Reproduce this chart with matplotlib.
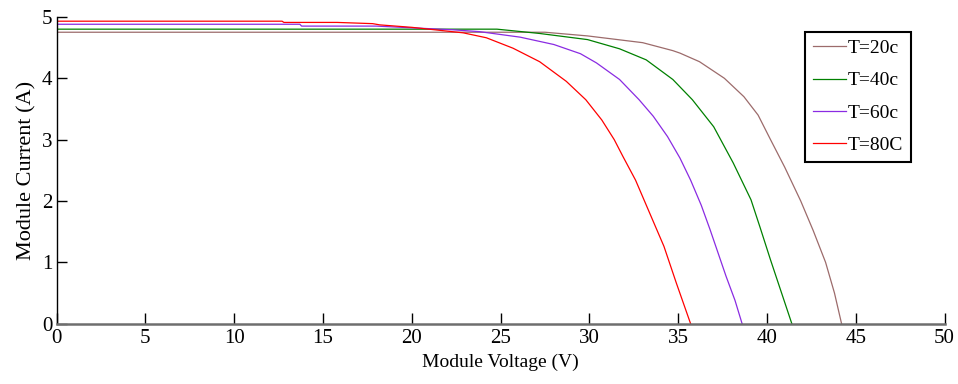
import matplotlib
matplotlib.use("Agg")
import matplotlib.pyplot as plt

# I-V curves, one pair of lists per temperature
v_20 = [0, 27.5, 29.9, 33.0, 34.7, 35.1, 36.2, 37.6, 38.7, 39.5, 40.2, 41.0, 41.9, 42.6, 43.3, 43.8, 44.2]
i_20 = [4.75, 4.75, 4.69, 4.58, 4.45, 4.41, 4.27, 4.00, 3.70, 3.40, 3.00, 2.55, 2.00, 1.52, 1.00, 0.50, 0.0]

v_40 = [0, 24.8, 27.2, 29.9, 31.7, 33.2, 34.7, 35.8, 37.0, 38.1, 39.1, 39.6, 40.2, 40.8, 41.4]
i_40 = [4.80, 4.80, 4.73, 4.63, 4.48, 4.30, 3.98, 3.65, 3.21, 2.62, 2.02, 1.58, 1.04, 0.52, 0.0]

v_60 = [0, 13.7, 13.8, 18.0, 22.3, 23.8, 26.1, 28.0, 29.5, 30.4, 31.7, 32.8, 33.6, 34.4, 35.1, 35.7, 36.3, 36.8, 37.7, 38.2, 38.6]
i_60 = [4.88, 4.88, 4.85, 4.85, 4.79, 4.76, 4.67, 4.55, 4.40, 4.25, 3.98, 3.65, 3.38, 3.05, 2.70, 2.34, 1.93, 1.53, 0.77, 0.38, 0.0]

v_80 = [0, 12.7, 12.8, 15.8, 17.8, 18.2, 20.0, 22.9, 24.2, 25.7, 27.2, 28.7, 29.8, 30.7, 31.4, 31.9, 32.6, 33.4, 34.2, 34.9, 35.3, 35.7]
i_80 = [4.93, 4.93, 4.91, 4.91, 4.89, 4.87, 4.83, 4.74, 4.66, 4.49, 4.27, 3.95, 3.65, 3.32, 3.00, 2.72, 2.34, 1.80, 1.26, 0.66, 0.33, 0.0]

labels = ["T=20c", "T=40c", "T=60c", "T=80C"]
colors = ["#9c6b6b", "#008000", "#8a2be2", "#ff0000"]

x_ticks = [0, 5, 10, 15, 20, 25, 30, 35, 40, 45, 50]
y_ticks = [0, 1, 2, 3, 4, 5]

plt.rcParams["font.family"] = ["Liberation Serif", "DejaVu Serif"]

fig = plt.figure(figsize=(9.58, 3.84), dpi=100)
ax = fig.add_axes([0.059, 0.157, 0.927, 0.799])

curves = [(v_20, i_20), (v_40, i_40), (v_60, i_60), (v_80, i_80)]
for (v, i), lab, c in zip(curves, labels, colors):
    ax.plot(v, i, color=c, linewidth=0.9, label=lab)

ax.set_xlim(0, 50)
ax.set_ylim(0, 5)
ax.set_xticks(x_ticks)
ax.set_yticks(y_ticks)
ax.tick_params(axis="x", direction="in", length=8, width=1, labelsize=15, pad=4)
ax.tick_params(axis="y", direction="in", length=7, width=1, labelsize=15, pad=3)

ax.spines["top"].set_visible(False)
ax.spines["right"].set_visible(False)
ax.spines["bottom"].set_color("#6e6e6e")
ax.spines["bottom"].set_linewidth(1.8)
ax.spines["left"].set_linewidth(1.0)

ax.set_xlabel("Module Voltage (V)", fontsize=14, labelpad=4)
ax.set_ylabel("Module Current (A)", fontsize=16, labelpad=4)

leg = ax.legend(loc="upper right", bbox_to_anchor=(0.951, 0.917),
                bbox_transform=fig.transFigure, borderaxespad=0,
                fontsize=14, handlelength=1.7, handletextpad=0.1,
                labelspacing=0.75, borderpad=0.4, fancybox=False,
                framealpha=1, edgecolor="black")
leg.get_frame().set_linewidth(1.5)

fig.savefig("out.png", dpi=100)
